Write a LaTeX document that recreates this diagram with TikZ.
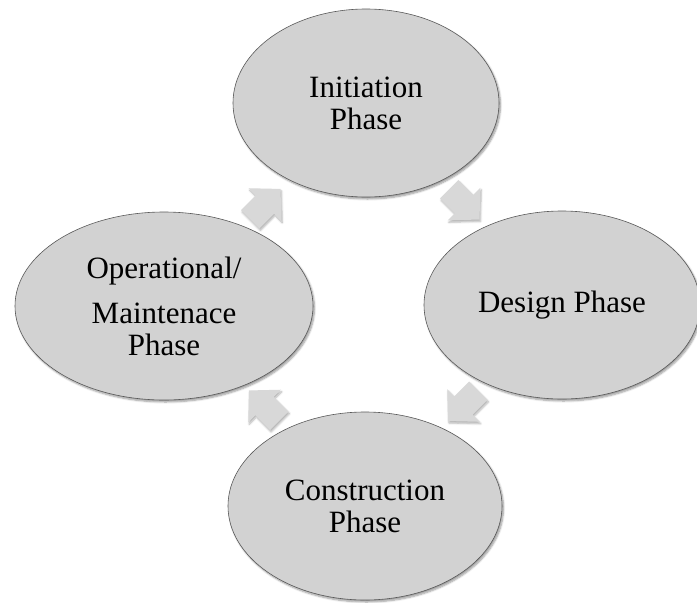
\documentclass[tikz,border=0pt]{standalone}
\usepackage{fontspec}
\setmainfont{Liberation Serif}
\usetikzlibrary{%
  shapes,%
  shadows.blur,%
  positioning,%
  calc
}
\definecolor{phasegray}{RGB}{210,210,210}
\definecolor{arrowgray}{RGB}{216,216,216}

\begin{document}
\begin{tikzpicture}
[x=1pt, y=-1pt, font=\fontsize{31}{32}\selectfont,
phase/.style={ellipse, draw=gray!70!black, line width=0.6pt, fill=phasegray,
  inner sep=0pt, minimum width=272pt, minimum height=188pt, align=center,
  blur shadow={shadow xshift=1.5pt, shadow yshift=-2pt, shadow blur steps=6}},
cyc/.style={fill=arrowgray,
  blur shadow={shadow xshift=1pt, shadow yshift=-2pt, shadow blur steps=5, shadow opacity=30}}]

\useasboundingbox (0,0) rectangle (697,603);

\node[phase, minimum width=266pt] (init) at (366,103) {Initiation\\Phase};
\node[phase, minimum width=276pt] (design) at (562,305) {Design Phase};
\node[phase, minimum width=274pt] (constr) at (365,506) {Construction\\Phase};
\node[phase, minimum width=298pt] (oper) at (164,306) {Operational/\\[13pt]Maintenace\\Phase};

\coordinate (m1) at ($(init)!0.5!(design)$);
\coordinate (m2) at ($(design)!0.5!(constr)$);
\coordinate (m3) at ($(constr)!0.5!(oper)$);
\coordinate (m4) at ($(oper)!0.5!(init)$);

% clockwise arrows between the phases
\foreach \m/\ang in {m1/-45, m2/-135, m3/135, m4/45} {
  \begin{scope}[shift={(\m)}, rotate=\ang]
    \fill[cyc] (-21pt,13pt) -- (0pt,13pt) -- (0pt,23pt) -- (22pt,0pt)
      -- (0pt,-23pt) -- (0pt,-13pt) -- (-21pt,-13pt) -- cycle;
  \end{scope}
}
\end{tikzpicture}
\end{document}
